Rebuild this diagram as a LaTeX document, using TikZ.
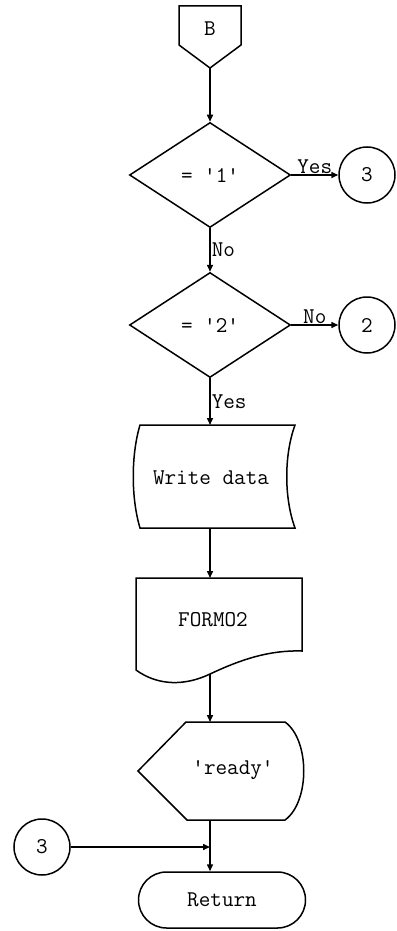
\documentclass[tikz,border=0pt]{standalone}
\usetikzlibrary{shapes.geometric,shapes.misc,arrows.meta}
\begin{document}
\begin{tikzpicture}[x=1pt,y=-1pt,
  line width=1.5pt,
  txt/.style={font=\fontsize{22.5}{24}\selectfont\ttfamily, inner sep=1pt},
  arr/.style={-{Triangle[length=7pt,width=6pt]}},
  dec/.style={diamond, draw, inner sep=0pt, minimum width=161pt, minimum height=105pt, txt},
  conn/.style={circle, draw, inner sep=0pt, minimum size=56pt, txt},
  term/.style={rounded rectangle, draw, inner sep=0pt, minimum width=169pt, minimum height=56pt, txt}
]
\useasboundingbox[fill=white] (0,0) rectangle (396,931);

% off-page connector B
\draw (179,6) -- (241,6) -- (241,45) -- (210,68) -- (179,45) -- cycle;
\node[txt] (B) at (210,29) {B};
\coordinate (Btip) at (210,68);

% decision 1
\node[dec] (d1) at (210,175) {= \textquotesingle 1\textquotesingle};
\node[conn] (c3a) at (367,175) {3};
\draw[arr] (Btip) -- (d1.north);
\draw[arr] (d1.east) -- (c3a.west) node[midway, above, txt] (yes1) {Yes};

% decision 2
\node[dec] (d2) at (210,325) {= \textquotesingle 2\textquotesingle};
\node[conn] (c2) at (367,325) {2};
\draw[arr] (d1.south) -- (d2.north) node[midway, right, txt] (no1) {No};
\draw[arr] (d2.east) -- (c2.west) node[midway, above, txt] (no2) {No};

% write data (stored data shape)
\draw (140,425) -- (295,425) .. controls (284,455) and (284,498) .. (295,528)
      -- (140,528) .. controls (131,498) and (131,455) .. (140,425) -- cycle;
\node[txt] (wd) at (211,478) {Write data};
\coordinate (wdtop) at (210,425);
\coordinate (wdbot) at (210,528);
\draw[arr] (d2.south) -- (wdtop) node[midway, right, txt] (yes2) {Yes};

% FORMO2 document
\draw (210,674) .. controls (185,686) and (158,686) .. (136,670)
      -- (136,578) -- (302,578) -- (302,651)
      .. controls (268,650) and (240,660) .. (210,674);
\node[txt] (fm) at (213,620) {FORMO2};
\coordinate (fmtop) at (210,578);
\coordinate (fmbot) at (210,674);
\draw[arr] (wdbot) -- (fmtop);

% display 'ready'
\draw (186,722) -- (285,722) .. controls (310,740) and (310,802) .. (285,820)
      -- (187,820) -- (138,771) -- cycle;
\node[txt] (rd) at (233,770) {\textquotesingle ready\textquotesingle};
\coordinate (dtop) at (210,722);
\coordinate (dbot) at (210,820);
\draw[arr] (fmbot) -- (dtop);

% return
\node[term] (ret) at (222,900) {Return};
\node[conn] (c3b) at (42,847) {3};
\coordinate (jn) at (210,847);
\draw[arr] (dbot) -- (dbot |- ret.north);
\draw[arr] (c3b.east) -- (jn);
\end{tikzpicture}
\end{document}
